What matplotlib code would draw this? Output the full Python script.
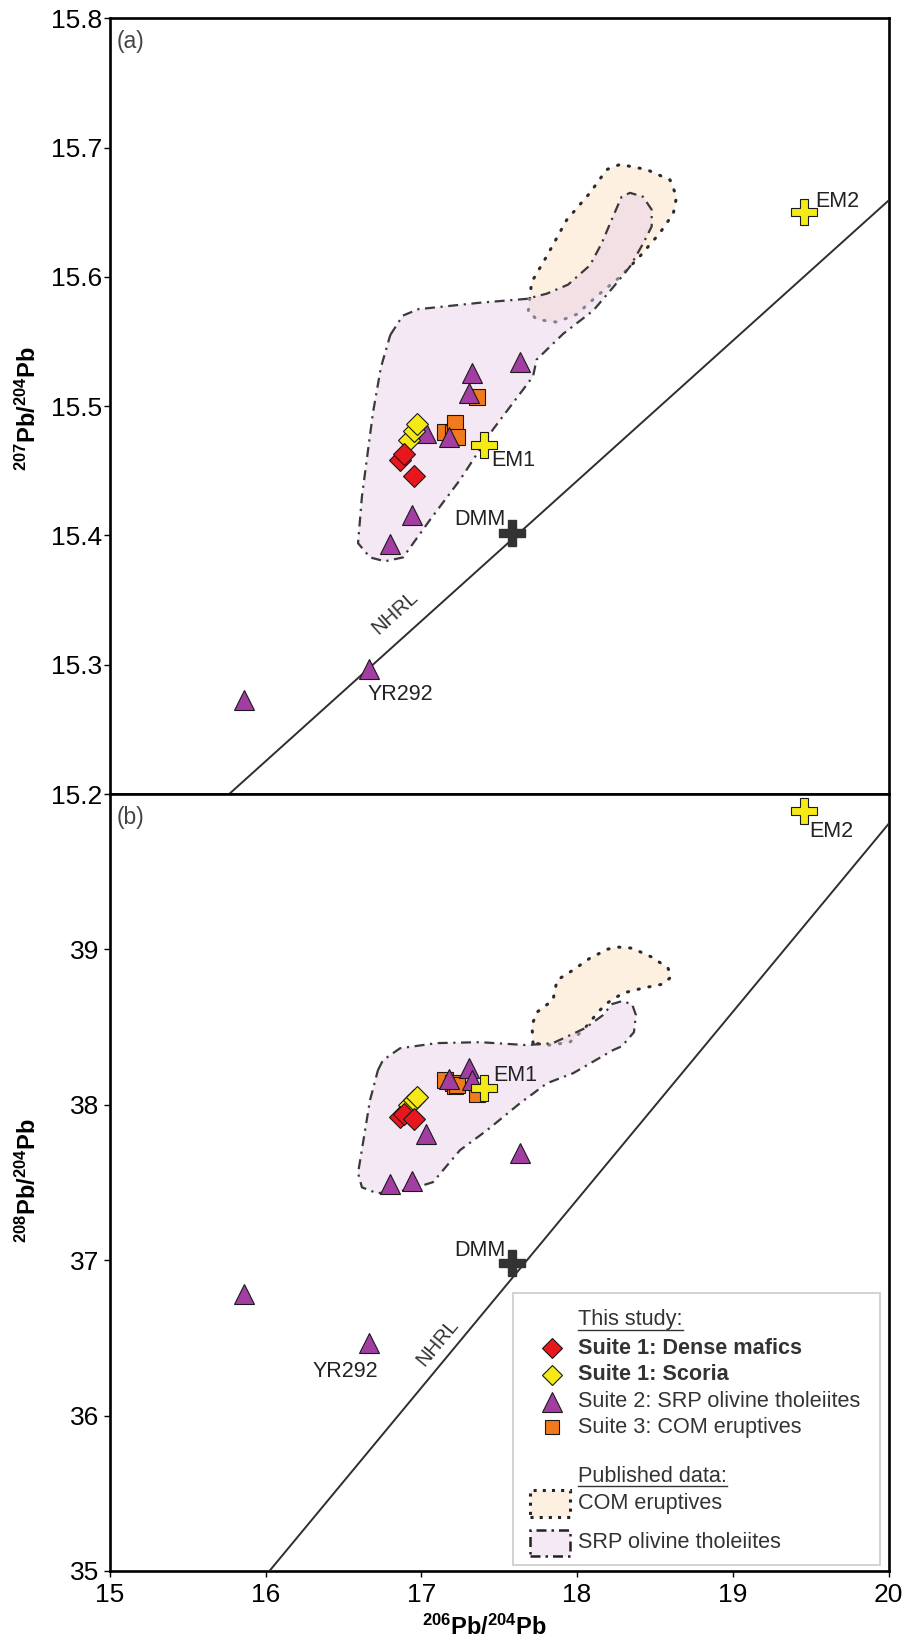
import matplotlib
matplotlib.use('Agg')
import matplotlib.pyplot as plt
import numpy as np
from matplotlib.patches import Polygon, Rectangle
from matplotlib.lines import Line2D

plt.rcParams['font.family'] = ['Liberation Sans', 'DejaVu Sans']
plt.rcParams['mathtext.fontset'] = 'custom'
plt.rcParams['mathtext.rm'] = 'Liberation Sans'
plt.rcParams['mathtext.bf'] = 'Liberation Sans:bold'

# ---------------- data ----------------
dense_206 = [16.86, 16.89, 16.95]
dense_207 = [15.458, 15.463, 15.446]
dense_208 = [37.92, 37.94, 37.91]

scoria_206 = [16.92, 16.95, 16.97]
scoria_207 = [15.474, 15.481, 15.486]
scoria_208 = [38.00, 38.03, 38.05]

srp_206 = [15.86, 16.663, 16.798, 16.938, 17.03, 17.177, 17.307, 17.323, 17.633]
srp_207 = [15.273, 15.297, 15.393, 15.416, 15.479, 15.476, 15.510, 15.526, 15.534]
srp_208 = [36.785, 36.469, 37.493, 37.508, 37.809, 38.163, 38.234, 38.158, 37.690]

com_206 = [17.152, 17.205, 17.216, 17.226, 17.359]
com_207 = [15.480, 15.479, 15.487, 15.476, 15.507]
com_208 = [38.16, 38.14, 38.12, 38.13, 38.07]

em_names = ['DMM', 'EM1', 'EM2']
em_206 = [17.58, 17.40, 19.46]
em_207 = [15.402, 15.470, 15.650]
em_208 = [36.98, 38.11, 39.89]

# Northern Hemisphere Reference Line
nhrl_207_slope, nhrl_207_int = 0.1084, 13.491
nhrl_208_slope, nhrl_208_int = 1.209, 15.627

# Published-data envelopes
com_env_a_206 = [17.687, 17.708, 17.805, 17.933, 18.083, 18.190, 18.276, 18.447, 18.597,
                 18.639, 18.618, 18.532, 18.404, 18.276, 18.126, 17.997, 17.869, 17.740]
com_env_a_207 = [15.574, 15.596, 15.616, 15.644, 15.665, 15.683, 15.687, 15.683, 15.675,
                 15.662, 15.649, 15.634, 15.616, 15.600, 15.585, 15.571, 15.565, 15.567]

srp_env_a_206 = [16.80, 16.88, 16.98, 17.376, 17.676, 17.805, 17.942, 18.083, 18.158, 18.232,
                 18.286, 18.340, 18.423, 18.479, 18.479, 18.425, 18.340, 18.232, 18.104,
                 17.911, 17.740, 17.717, 17.460, 17.248, 17.055, 16.882, 16.766, 16.670,
                 16.593, 16.618, 16.689, 16.74]
srp_env_a_207 = [15.555, 15.570, 15.575, 15.580, 15.583, 15.587, 15.594, 15.609, 15.626, 15.647,
                 15.662, 15.665, 15.662, 15.652, 15.639, 15.626, 15.608, 15.592, 15.574,
                 15.556, 15.536, 15.523, 15.482, 15.443, 15.412, 15.383, 15.380, 15.383,
                 15.394, 15.430, 15.495, 15.530]

com_env_b_206 = [17.717, 17.710, 17.742, 17.845, 17.871, 17.974, 18.083, 18.198, 18.263,
                 18.353, 18.481, 18.584, 18.603, 18.552, 18.423, 18.295, 18.192, 18.134,
                 18.051, 17.954, 17.826]
com_env_b_208 = [38.397, 38.513, 38.596, 38.674, 38.802, 38.867, 38.944, 39.002, 39.015,
                 39.008, 38.950, 38.880, 38.822, 38.777, 38.751, 38.719, 38.654, 38.596,
                 38.493, 38.403, 38.384]

srp_env_b_206 = [16.721, 16.753, 16.863, 17.100, 17.376, 17.678, 17.845, 18.051, 18.166,
                 18.224, 18.288, 18.353, 18.378, 18.365, 18.288, 18.231, 17.974, 17.807,
                 17.633, 17.421, 17.248, 17.074, 16.908, 16.715, 16.618, 16.593, 16.670]
srp_env_b_208 = [38.223, 38.287, 38.364, 38.397, 38.403, 38.384, 38.397, 38.493, 38.577,
                 38.648, 38.667, 38.648, 38.577, 38.467, 38.377, 38.352, 38.203, 38.139,
                 38.010, 37.836, 37.708, 37.502, 37.450, 37.431, 37.469, 37.560, 38.030]

xticks = [15, 16, 17, 18, 19, 20]
yticks_a = [15.2, 15.3, 15.4, 15.5, 15.6, 15.7, 15.8]
yticks_b = [35, 36, 37, 38, 39]

# ---------------- styles ----------------
C_RED = '#e8161d'
C_YEL = '#f6ea16'
C_PUR = '#a23ea2'
C_ORA = '#f07a1c'
C_COMF = '#fdf0e1'
C_SRPF = '#e9d2e9'
C_TXT = '#333333'

W, H = 907, 1646
fig = plt.figure(figsize=(W / 100, H / 100), dpi=100)
L, R = 110, 888.5
ax_a = fig.add_axes([L / W, 1 - 794 / H, (R - L) / W, (794 - 18.3) / H])
ax_b = fig.add_axes([L / W, 1 - 1571 / H, (R - L) / W, (1571 - 794) / H])

env_style_com = dict(ls=(0, (0.4, 3.2)), lw=2.2, color='#2a2a2a', dash_capstyle='round')
env_style_srp = dict(ls=(0, (4.5, 2.5, 1.0, 2.5)), lw=1.6, color='#3a3a3a')


def draw_env(ax, xs, ys, fc, alpha, style, z):
    ax.add_patch(Polygon(np.column_stack([xs, ys]), closed=True, facecolor=fc,
                         edgecolor='none', alpha=alpha, zorder=z))
    ax.plot(list(xs) + [xs[0]], list(ys) + [ys[0]], zorder=z + 0.5, **style)


def common(ax, ylo, yhi, yticks):
    ax.set_xlim(15, 20)
    ax.set_ylim(ylo, yhi)
    ax.set_yticks(yticks)
    for s in ax.spines.values():
        s.set_linewidth(1.9)
    ax.tick_params(axis='both', direction='out', length=4.5, width=1.0,
                   labelsize=19, colors='black')


# ---------------- panel (a) ----------------
common(ax_a, 15.2, 15.8, yticks_a)
ax_a.set_yticklabels([f'{v:.1f}' for v in yticks_a])
ax_a.set_xticks([])
ax_a.tick_params(axis='y', pad=1)
draw_env(ax_a, com_env_a_206, com_env_a_207, C_COMF, 1.0, env_style_com, 1)
draw_env(ax_a, srp_env_a_206, srp_env_a_207, C_SRPF, 0.5, env_style_srp, 2)
xl = np.array([15, 20])
ax_a.plot(xl, nhrl_207_slope * xl + nhrl_207_int, color='#2e2e2e', lw=1.4, zorder=3)

# ---------------- panel (b) ----------------
common(ax_b, 35, 40, yticks_b)
ax_b.set_xticks(xticks)
ax_b.tick_params(axis='x', pad=4)
ax_b.tick_params(axis='y', pad=3)
draw_env(ax_b, com_env_b_206, com_env_b_208, C_COMF, 1.0, env_style_com, 1)
draw_env(ax_b, srp_env_b_206, srp_env_b_208, C_SRPF, 0.5, env_style_srp, 2)
ax_b.plot(xl, nhrl_208_slope * xl + nhrl_208_int, color='#2e2e2e', lw=1.4, zorder=3)

# markers
mk = dict(ls='none', mec='#1a1a1a', mew=0.8, zorder=5)
for ax, yd, ys, ysrp, yc, yem in [
        (ax_a, dense_207, scoria_207, srp_207, com_207, em_207),
        (ax_b, dense_208, scoria_208, srp_208, com_208, em_208)]:
    ax.plot(com_206, yc, marker='s', ms=11, mfc=C_ORA, **mk)
    ax.plot(srp_206, ysrp, marker='^', ms=14, mfc=C_PUR, **mk)
    ax.plot(scoria_206, ys, marker='D', ms=11, mfc=C_YEL, **mk)
    ax.plot(dense_206, yd, marker='D', ms=11, mfc=C_RED, **mk)
    ax.plot(em_206[0], yem[0], marker='P', ms=18.5, mfc='#333333', mec='#333333', ls='none', zorder=6)
    ax.plot(em_206[1:], yem[1:], marker='P', ms=18.5, mfc=C_YEL, mec='#1a1a1a', mew=0.8, ls='none', zorder=6)

# annotations panel (a)
tk = dict(fontsize=15.5, color='#222222', zorder=7)
ax_a.text(0.009, 0.985, '(a)', transform=ax_a.transAxes, ha='left', va='top', fontsize=16.5, color='#444444')
ax_a.text(17.45, 15.458, 'EM1', ha='left', va='center', **tk)
ax_a.text(17.537, 15.412, 'DMM', ha='right', va='center', **tk)
ax_a.text(em_206[2] + 0.07, 15.658, 'EM2', ha='left', va='center', **tk)
ax_a.text(16.657, 15.277, 'YR292', ha='left', va='center', **tk)
x_lab_a = 16.87
ax_a.text(x_lab_a, nhrl_207_slope * x_lab_a + nhrl_207_int + 0.015, 'NHRL', ha='center', va='bottom',
          rotation=np.degrees(np.arctan(nhrl_207_slope)), transform_rotates_text=True,
          rotation_mode='anchor', fontsize=14.5, color='#333333')

# annotations panel (b)
ax_b.text(0.009, 0.985, '(b)', transform=ax_b.transAxes, ha='left', va='top', fontsize=16.5, color='#444444')
ax_b.text(17.46, 38.19, 'EM1', ha='left', va='center', **tk)
ax_b.text(17.537, 37.06, 'DMM', ha='right', va='center', **tk)
ax_b.text(em_206[2] + 0.03, 39.76, 'EM2', ha='left', va='center', **tk)
ax_b.text(16.72, 36.285, 'YR292', ha='right', va='center', **tk)
x_lab_b = 17.15
ax_b.text(x_lab_b, nhrl_208_slope * x_lab_b + nhrl_208_int + 0.07, 'NHRL', ha='center', va='bottom',
          rotation=np.degrees(np.arctan(nhrl_208_slope)), transform_rotates_text=True,
          rotation_mode='anchor', fontsize=14.5, color='#333333')

# axis labels
fig.text(28 / W, 1 - 409 / H, r'$\mathbf{^{207}Pb/^{204}Pb}$', rotation=90, ha='center', va='center', fontsize=17)
fig.text(28 / W, 1 - 1181 / H, r'$\mathbf{^{208}Pb/^{204}Pb}$', rotation=90, ha='center', va='center', fontsize=17)
fig.text(484 / W, 1 - 1627 / H, r'$\mathbf{^{206}Pb/^{204}Pb}$', ha='center', va='center', fontsize=17)

# ---------------- legend (manual) ----------------
def fx(px):
    return (px - L) / (R - L)


def fy(py):
    return (1571 - py) / (1571 - 794)


T = ax_b.transAxes
ax_b.add_patch(Rectangle((fx(513), fy(1565)), fx(880) - fx(513), fy(1293) - fy(1565), transform=T,
                         facecolor='white', edgecolor='#cfcfcf', lw=1.3, zorder=8))
lt = dict(transform=T, fontsize=15.6, color=C_TXT, va='center', ha='left', zorder=10)
hdr1 = ax_b.text(fx(578), fy(1320), 'This study:', **lt)
ax_b.text(fx(578), fy(1348), 'Suite 1: Dense mafics', fontweight='bold', **lt)
ax_b.text(fx(578), fy(1375), 'Suite 1: Scoria', fontweight='bold', **lt)
ax_b.text(fx(578), fy(1401.5), 'Suite 2: SRP olivine tholeiites', **lt)
ax_b.text(fx(578), fy(1427), 'Suite 3: COM eruptives', **lt)
hdr2 = ax_b.text(fx(578), fy(1476.5), 'Published data:', **lt)
ax_b.text(fx(578), fy(1503), 'COM eruptives', **lt)
ax_b.text(fx(578), fy(1543), 'SRP olivine tholeiites', **lt)

lm = dict(transform=T, ls='none', mec='#1a1a1a', mew=0.8, zorder=10)
ax_b.plot([fx(551.5)], [fy(1348)], marker='D', ms=10.5, mfc=C_RED, **lm)
ax_b.plot([fx(551.5)], [fy(1375)], marker='D', ms=10.5, mfc=C_YEL, **lm)
ax_b.plot([fx(551.5)], [fy(1401.5)], marker='^', ms=14, mfc=C_PUR, **lm)
ax_b.plot([fx(551.5)], [fy(1427)], marker='s', ms=10, mfc=C_ORA, **lm)

ax_b.add_patch(Rectangle((fx(530), fy(1517)), fx(570) - fx(530), fy(1490) - fy(1517), transform=T,
                         facecolor=C_COMF, edgecolor='#222222', lw=2.2, ls=(0, (1.0, 2.0)), zorder=10))
ax_b.add_patch(Rectangle((fx(530), fy(1556)), fx(570) - fx(530), fy(1530) - fy(1556), transform=T,
                         facecolor='#f4e9f4', edgecolor='#222222', lw=1.8, ls=(0, (4, 2, 1, 2)), zorder=10))

fig.canvas.draw()
r = fig.canvas.get_renderer()
inv = T.inverted()
for h in (hdr1, hdr2):
    bb = h.get_window_extent(r)
    (x0, y0), (x1, _) = inv.transform([(bb.x0, bb.y0 + 1), (bb.x1, bb.y0 + 1)])
    ax_b.add_line(Line2D([x0, x1], [y0, y0], transform=T, color=C_TXT, lw=1.0, zorder=10))

fig.savefig('out.png', dpi=100)
